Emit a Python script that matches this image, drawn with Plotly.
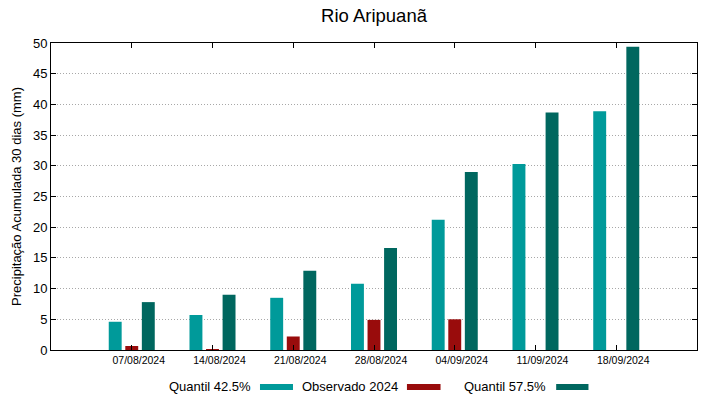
import plotly.graph_objects as go

dates = ["07/08/2024", "14/08/2024", "21/08/2024", "28/08/2024", "04/09/2024", "11/09/2024", "18/09/2024"]
q425 = [4.6, 5.7, 8.5, 10.8, 21.2, 30.3, 38.9]
obs2024 = [0.65, 0.1, 2.2, 4.9, 5.0, None, None]
q575 = [7.8, 9.0, 12.9, 16.6, 29.0, 38.7, 49.4]
yticks = [0, 5, 10, 15, 20, 25, 30, 35, 40, 45, 50]

names = ["Quantil 42.5%", "Observado 2024", "Quantil 57.5%"]
colors = ["#009a9a", "#990c0c", "#00675f"]
offsets = [-0.285, -0.08, 0.125]
series = [q425, obs2024, q575]

xs = list(range(len(dates)))
FONT = "Liberation Sans, Arial, sans-serif"

fig = go.Figure()
for name, vals, col, off in zip(names, series, colors, offsets):
    fig.add_trace(go.Bar(x=xs, y=vals, name=name, marker=dict(color=col, line=dict(width=0)),
                         width=0.16, offset=off, showlegend=False))

fig.update_layout(
    width=719, height=399,
    margin=dict(l=51, r=22, t=43, b=49, autoexpand=False),
    paper_bgcolor="white", plot_bgcolor="white",
    barmode="overlay",
    font=dict(family=FONT, color="black"),
    title=dict(text="Rio Aripuanã", x=0.5, xref="paper", xanchor="center", y=0.96,
               yanchor="middle", font=dict(size=18.5, family=FONT, color="black")),
    xaxis=dict(range=[-1, 7], tickvals=xs, ticktext=dates, ticks="inside", ticklen=5,
               tickcolor="black", showline=True, linecolor="black", linewidth=1,
               mirror="allticks", showgrid=False, zeroline=False, automargin=False,
               tickfont=dict(size=10.5, family=FONT), ticklabelshift=7),
    yaxis=dict(range=[0, 50], tickvals=yticks, ticks="inside", ticklen=5, tickcolor="black",
               showline=True, linecolor="black", linewidth=1, mirror="allticks",
               showgrid=True, gridcolor="#a8a8a8", griddash="1px,2px", gridwidth=1,
               zeroline=False, automargin=False, tickfont=dict(size=13, family=FONT),
               title=dict(text="Precipitação Acumulada 30 dias (mm)", standoff=8,
                          font=dict(size=13, family=FONT))),
)

# gnuplot-style legend: text then sample
leg_text_x = [0.3122, 0.5402, 0.7698]
leg_sample = [(0.3235, 0.3746), (0.551, 0.603), (0.782, 0.832)]
ly = -0.1205
for name, col, tx, (s0, s1) in zip(names, colors, leg_text_x, leg_sample):
    fig.add_annotation(text=name, x=tx, y=ly, xref="paper", yref="paper",
                       xanchor="right", yanchor="middle", showarrow=False,
                       font=dict(size=13, family=FONT, color="black"))
    fig.add_shape(type="line", x0=s0, x1=s1, y0=ly, y1=ly, xref="paper", yref="paper",
                  line=dict(color=col, width=6))

fig.write_html("out.html", config={"displayModeBar": False},
               post_script="document.body.style.margin='0';document.body.style.padding='0';")
